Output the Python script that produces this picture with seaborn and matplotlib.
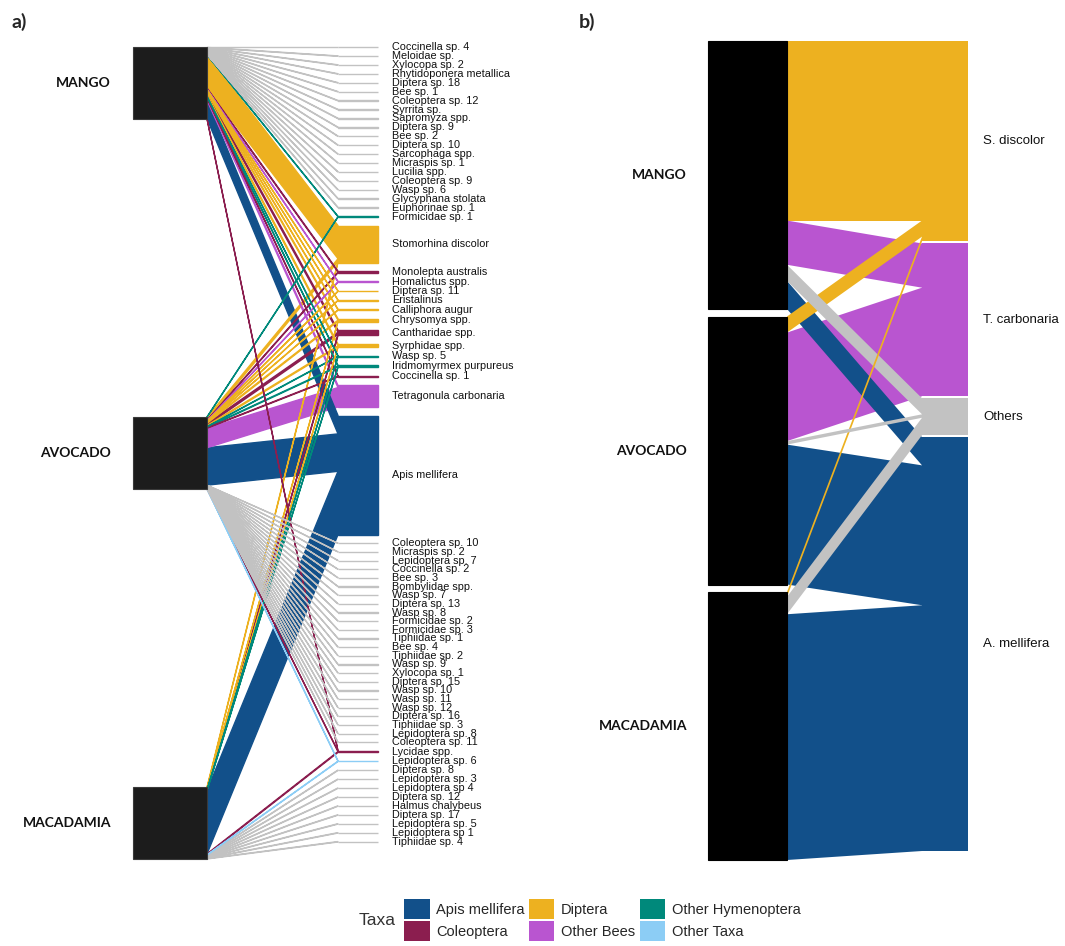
import numpy as np
import pandas as pd
import matplotlib
matplotlib.use("Agg")
import matplotlib.pyplot as plt
import seaborn as sns
from matplotlib.patches import Polygon, Rectangle, Patch

sns.set_theme(style="white")
plt.rcParams['font.family'] = ['Liberation Sans', 'DejaVu Sans']

# ---------------- DATA ----------------
crops = ["MANGO", "AVOCADO", "MACADAMIA"]

taxa_names = ["Apis mellifera", "Coleoptera", "Diptera", "Other Bees",
              "Other Hymenoptera", "Other Taxa"]
taxa_hex = ["#12508a", "#8b1e4f", "#edb120", "#b955d0", "#00897b", "#8ccdf5"]
rare_hex = "#c2c2c2"

# panel a: species (top to bottom), taxon ("Rare" = grey) and % of visits per crop
species = [
    "Coccinella sp. 4", "Meloidae sp.", "Xylocopa sp. 2", "Rhytidoponera metallica",
    "Diptera sp. 18", "Bee sp. 1", "Coleoptera sp. 12", "Syrrita sp.", "Sapromyza spp.",
    "Diptera sp. 9", "Bee sp. 2", "Diptera sp. 10", "Sarcophaga spp.", "Micraspis sp. 1",
    "Lucilia spp.", "Coleoptera sp. 9", "Wasp sp. 6", "Glycyphana stolata",
    "Euphorinae sp. 1", "Formicidae sp. 1",
    "Stomorhina discolor", "Monolepta australis", "Homalictus spp.", "Diptera sp. 11",
    "Eristalinus", "Calliphora augur", "Chrysomya spp.", "Cantharidae spp.",
    "Syrphidae spp.", "Wasp sp. 5", "Iridmomyrmex purpureus", "Coccinella sp. 1",
    "Tetragonula carbonaria", "Apis mellifera",
    "Coleoptera sp. 10", "Micraspis sp. 2", "Lepidoptera sp. 7", "Coccinella sp. 2",
    "Bee sp. 3", "Bombylidae spp.", "Wasp sp. 7", "Diptera sp. 13", "Wasp sp. 8",
    "Formicidae sp. 2", "Formicidae sp. 3", "Tiphiidae sp. 1", "Bee sp. 4",
    "Tiphiidae sp. 2", "Wasp sp. 9", "Xylocopa sp. 1", "Diptera sp. 15", "Wasp sp. 10",
    "Wasp sp. 11", "Wasp sp. 12", "Diptera sp. 16", "Tiphiidae sp. 3",
    "Lepidoptera sp. 8", "Coleoptera sp. 11", "Lycidae spp.", "Lepidoptera sp. 6",
    "Diptera sp. 8", "Lepidoptera sp. 3", "Lepidoptera sp 4", "Diptera sp. 12",
    "Halmus chalybeus", "Diptera sp. 17", "Lepidoptera sp. 5", "Lepidoptera sp 1",
    "Tiphiidae sp. 4",
]
taxon = (["Rare"] * 19 + ["Other Hymenoptera"] +
         ["Diptera", "Coleoptera", "Other Bees", "Diptera", "Diptera", "Diptera",
          "Diptera", "Coleoptera", "Diptera", "Other Hymenoptera", "Other Hymenoptera",
          "Coleoptera", "Other Bees", "Apis mellifera"] +
         ["Rare"] * 24 + ["Coleoptera", "Other Taxa"] + ["Rare"] * 9)

mango = ([0.55] * 19 + [0.6] +
         [46, 1.2, 0.8, 0.5, 0.5, 1.0, 2.0, 3.0, 2.5, 0.5, 1.2, 0.8, 3.0, 25.5] +
         [0] * 24 + [0.4, 0] + [0] * 9)
avocado = ([0] * 19 + [0.5] +
           [4.0, 1.0, 0.6, 0.4, 0.4, 0.5, 1.5, 3.0, 1.5, 0.6, 1.0, 0.8, 27.0, 52.0] +
           [0.2] * 24 + [0.4, 0.3] + [0] * 9)
macadamia = ([0] * 19 + [0] +
             [1.5, 0, 0, 0, 0, 0, 0.5, 1.5, 0.5, 0.3, 0.5, 0, 0, 88.0] +
             [0] * 24 + [1.2, 0.5] + [0.6] * 9)

# panel b: proportion of visits per crop
b_groups = ["S. discolor", "T. carbonaria", "Others", "A. mellifera"]
b_taxon = ["Diptera", "Other Bees", "Rare", "Apis mellifera"]
b_mango = [0.67, 0.165, 0.06, 0.105]
b_avocado = [0.06, 0.405, 0.013, 0.522]
b_macadamia = [0.018, 0.0, 0.065, 0.917]

# ---------------- STYLE / LAYOUT ----------------
palette = dict(zip(taxa_names, sns.color_palette(taxa_hex)))
palette["Rare"] = rare_hex

fig = plt.figure(figsize=(10.65, 9.46), dpi=100)
ax = fig.add_axes([0, 0, 1, 1])
ax.set_xlim(0, 1065)
ax.set_ylim(946, 0)
ax.axis("off")


def draw_web(ax, names, tax, mat, crop_x, sp_x, sp_w, top, crop_bottom, sp_bottom,
             k, crop_color, crop_ec, edge_lw, sp_gap=None):
    mat = np.asarray(mat, dtype=float)          # species x crops
    n_sp, n_cr = mat.shape
    crop_h = mat.sum(axis=0) * k
    cgap = (crop_bottom - top - crop_h.sum()) / (n_cr - 1)
    crop_top = top + np.concatenate([[0], np.cumsum(crop_h + cgap)[:-1]])
    sp_h = mat.sum(axis=1) * k
    if sp_gap is None:
        sp_gap = (sp_bottom - top - sp_h.sum()) / (n_sp - 1)
    sp_top = top + np.concatenate([[0], np.cumsum(sp_h + sp_gap)[:-1]])

    links = []
    c_cur = crop_top.copy()
    s_cur = sp_top.copy()
    # crop-side order follows species order; species-side order follows crop order
    c_start = np.zeros_like(mat)
    for j in range(n_cr):
        for i in range(n_sp):
            c_start[i, j] = c_cur[j]
            c_cur[j] += mat[i, j] * k
    for i in range(n_sp):
        for j in range(n_cr):
            w = mat[i, j] * k
            if mat[i, j] > 0:
                links.append((w, i, j, c_start[i, j], s_cur[i]))
            s_cur[i] += w
    links.sort(key=lambda t: -t[0])
    for w, i, j, c0, s0 in links:
        col = palette[tax[i]]
        poly = Polygon([(crop_x[1], c0), (crop_x[1], c0 + w), (sp_x, s0 + w), (sp_x, s0)],
                       closed=True, fc=col, ec=col if edge_lw > 0 else "none",
                       lw=edge_lw, joinstyle="miter")
        ax.add_patch(poly)
    for i in range(n_sp):
        col = palette[tax[i]]
        ax.add_patch(Rectangle((sp_x, sp_top[i]), sp_w, sp_h[i], fc=col,
                               ec=col if edge_lw > 0 else "none", lw=edge_lw))
    for j in range(n_cr):
        ax.add_patch(Rectangle((crop_x[0], crop_top[j]), crop_x[1] - crop_x[0], crop_h[j],
                               fc=crop_color, ec=crop_ec, lw=0.8, zorder=3))
    return crop_top, crop_h, sp_top, sp_h


# panel a
mat_a = np.column_stack([mango, avocado, macadamia])
ct, ch, st, sh = draw_web(ax, species, taxon, mat_a, crop_x=(133, 207), sp_x=338, sp_w=40,
                          top=47, crop_bottom=859, sp_bottom=842, k=0.72,
                          crop_color="#1c1c1c", crop_ec="#3a3a3a", edge_lw=1.0)
for i, name in enumerate(species):
    ax.text(392, st[i] + sh[i] / 2, name, va="center", ha="left", fontsize=7.8,
            color="#111111")
for j, c in enumerate(crops):
    ax.text(111, ct[j] + ch[j] / 2, c, va="center", ha="right", fontsize=10,
            fontweight="bold", family=["Lato", "DejaVu Sans"], color="#111111")

# panel b
mat_b = np.column_stack([b_mango, b_avocado, b_macadamia])
ctb, chb, stb, shb = draw_web(ax, b_groups, b_taxon, mat_b, crop_x=(708, 787), sp_x=922,
                              sp_w=46, top=41, crop_bottom=860, sp_bottom=None, k=268,
                              crop_color="#000000", crop_ec="#000000", edge_lw=0,
                              sp_gap=2)
for i, name in enumerate(b_groups):
    ax.text(983, stb[i] + shb[i] / 2, name, va="center", ha="left", fontsize=9.5,
            color="#111111")
for j, c in enumerate(crops):
    ax.text(687, ctb[j] + chb[j] / 2, c, va="center", ha="right", fontsize=10,
            fontweight="bold", family=["Lato", "DejaVu Sans"], color="#111111")

# panel tags
ax.text(12, 22, "a)", fontsize=14, fontweight="bold", va="center", ha="left",
        family=["Lato", "DejaVu Sans"])
ax.text(579, 22, "b)", fontsize=14, fontweight="bold", va="center", ha="left",
        family=["Lato", "DejaVu Sans"])

# legend
legend_order = ["Apis mellifera", "Coleoptera", "Diptera", "Other Bees",
                "Other Hymenoptera", "Other Taxa"]
handles = [Patch(fc=palette[t], ec="none", label=t) for t in legend_order]
fig.legend(handles=handles, ncol=3, loc="center left",
           bbox_to_anchor=(404 / 1065, 1 - 920 / 946), frameon=False,
           prop={"family": "Liberation Sans", "size": 10.5},
           handlelength=1.75, handleheight=1.75, handletextpad=0.45,
           columnspacing=0.3, labelspacing=0.12, borderpad=0, borderaxespad=0)
fig.text(396 / 1065, 1 - 920 / 946, "Taxa", ha="right", va="center", fontsize=12.5,
         color="#333333")

fig.savefig("out.png", dpi=100, facecolor="white")
